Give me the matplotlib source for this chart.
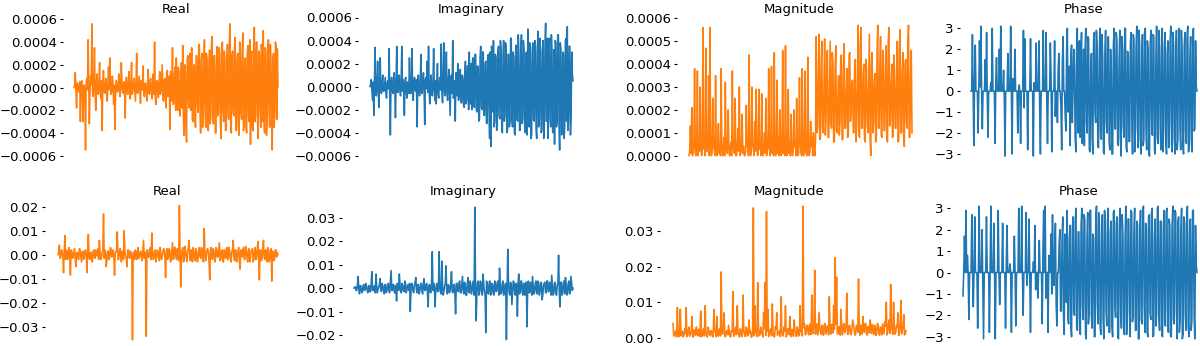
import numpy as np
import matplotlib.pyplot as plt

W, H = 1200, 346
ORANGE = '#ff7f0e'
BLUE = '#1f77b4'

# ---- top row: spectrum of the first signal (real/imag/mag in units of 1e-5, phase in rad) ----
real_top = [
    0, 2, 13, -3, -18, 4, 3, -2, -4, 5, -30, 1, 6, -3, -30, 2, 2, -4, -55, 3,
    8, -2, 42, 5, -32, -4, 10, 3, 56, -6, -8, 4, 35, -3, -20, 2, 12, -5, -6, 3,
    22, -4, -10, 6, -38, 2, 15, -3, -5, 4, 8, -6, -12, 3, 18, -2, 26, 5, -6, -3,
    10, 4, -15, 2, -37, -5, 6, 3, -4, -2, 12, 6, -8, -3, 22, 4, -3, -5, 5, 2,
    -27, 4, 9, -3, -6, 5, 14, -4, -10, 2, 22, -6, -4, 3, 8, -2, -12, 4, 30, -5,
    -5, 3, 10, -4, -14, 6, 6, -2, 19, -5, -8, 3, 4, -6, -12, 2, 16, -3, -6, 5,
    8, -4, -10, 3, 12, -6, 40, -8, -15, 5, 6, -3, -9, 4, 14, -6, -4, 8, 20, -10,
    -12, 6, 8, -9, -18, 12, 15, -8, -6, 10, -37, 14, 10, -12, 35, -15, -14, 10, 18, -20,
    26, -15, -20, 18, 15, -22, -25, 10, 22, -18, 37, -25, -42, 20, 12, -30, -48, 25, 28, -12,
    -18, 30, 24, -20, 35, -28, -30, 15, 20, -25, -35, 28, 28, -15, -22, 32, 38, -18, -40, 25,
    30, -35, -28, 22, 42, -20, -35, 30, 25, -28, -38, 18, 33, -32, -25, 38, 45, -22, -32, 28,
    28, -40, -40, 20, 36, -25, -22, 35, 30, -30, -45, 25, 40, -20, -30, 32, 25, -38, -35, 22,
    38, -25, -28, 40, 56, -30, -40, 28, 32, -22, -25, 35, 44, -35, -38, 25, 30, -30, -42, 40,
    35, -20, -28, 30, 48, -38, -33, 22, 26, -35, -40, 30, 37, -25, -30, 42, -50, 28, 32, -35,
    -38, 25, 53, -30, -25, 40, 40, -28, -45, 32, 30, -20, -35, 38, 28, -30, 50, -25, -40, 35,
    33, -42, -28, 30, 42, -22, -35, 38, 25, -30, -55, 25, 30, -35, -22, 40, 36, -28, 34, 0,
]
imag_top = [
    0, 2, 6, -3, -12, 4, -25, 2, 34, -5, -8, 3, 22, -4, -18, 5, 25, -2, -6, 3,
    10, -4, -4, 2, 8, -5, -10, 3, 5, -2, 33, -6, -42, 4, 8, -3, -6, 5, 12, -2,
    -27, 3, 35, -5, -5, 4, 10, -3, -8, 6, 35, -4, 6, -2, -25, 5, 8, -3, -10, 4,
    4, -6, 25, -2, -6, 3, 33, -5, -12, 4, 8, -3, -4, 6, -35, 2, 10, -4, -8, 3,
    28, -5, -6, 4, 12, -3, -33, 6, 8, -2, 22, -5, 35, -4, -15, 3, 10, -6, -8, 4,
    33, -3, -12, 5, -15, 2, 20, -6, -10, 4, 8, -3, 37, -5, -14, 6, 38, -4, -8, 3,
    30, -6, -12, 5, 15, -4, -25, 8, 10, -6, 40, -10, -8, 5, -30, 12, 12, -8, 20, -12,
    -10, 9, 15, -14, -14, 10, 8, -16, -18, 12, 22, -15, -12, 18, 18, -20, 30, -12, -15, 20,
    -20, 22, 25, -15, -18, 28, 28, -20, -22, 18, 15, -30, -28, 25, 35, -18, -20, 30, 30, -25,
    -25, 20, 22, -32, -32, 25, 28, -20, -45, 30, -52, 35, 30, -22, 40, -35, -30, 28, 25, -38,
    -35, 30, 35, -25, -28, 40, 30, -32, -40, 25, 40, -30, -25, 38, 32, -40, -38, 28, 28, -35,
    -30, 42, 42, -28, -35, 30, 25, -40, -42, 35, 36, -28, -30, 45, 28, -38, -38, 30, 45, -32,
    -28, 40, 33, -35, -40, 28, 30, -42, 50, -30, -35, 38, 27, -45, -42, 32, 38, -28, -30, 40,
    35, -38, -45, 30, 48, -35, -28, 42, 32, -40, -38, 30, 40, -45, -33, 35, 55, -30, -30, 42,
    -45, 38, 42, -28, -35, 45, 30, -40, -38, 32, -50, 40, 38, -35, -30, 45, 45, -32, -55, 38,
    33, -42, -40, 30, 28, -45, -35, 40, 42, -30, 52, -38, -30, 35, 35, -42, -25, 30, 10, 5,
]
mag_top = [
    0, 2, 13, 1, 21, 0, 2, 4, 38, 1, 0, 3, 37, 0, 4, 2, 30, 5, 0, 1,
    56, 3, 6, 0, 47, 2, 2, 4, 35, 0, 56, 3, 0, 1, 25, 4, 3, 0, 35, 2,
    0, 3, 14, 1, 5, 0, 38, 4, 0, 2, 8, 0, 32, 3, 2, 1, 20, 5, 0, 2,
    6, 0, 37, 3, 3, 1, 25, 0, 0, 4, 12, 2, 30, 0, 1, 3, 18, 1, 4, 0,
    0, 2, 22, 4, 6, 0, 44, 3, 0, 1, 30, 5, 3, 0, 15, 2, 29, 4, 0, 1,
    29, 3, 5, 0, 27, 2, 0, 4, 10, 1, 25, 0, 2, 3, 38, 5, 0, 2, 39, 1,
    6, 0, 45, 4, 0, 2, 33, 1, 8, 0, 20, 5, 0, 3, 46, 1, 4, 0, 48, 2,
    0, 5, 29, 1, 6, 0, 18, 3, 0, 2, 20, 4, 5, 0, 25, 3, 0, 1, 34, 5,
    3, 0, 38, 2, 0, 4, 37, 1, 5, 0, 43, 3, 0, 2, 15, 4, 8, 0, 10, 3,
    0, 8, 52, 10, 12, 35, 53, 7, 8, 40, 50, 12, 10, 28, 51, 9, 15, 42, 46, 8,
    8, 30, 50, 14, 12, 45, 40, 6, 6, 38, 48, 11, 10, 25, 35, 9, 14, 42, 44, 7,
    7, 36, 49, 12, 12, 28, 38, 8, 9, 44, 45, 15, 20, 32, 33, 10, 10, 40, 42, 6,
    15, 30, 57, 9, 8, 48, 56, 12, 12, 35, 40, 7, 6, 42, 38, 14, 10, 30, 53, 8,
    0, 40, 45, 10, 14, 33, 36, 6, 9, 45, 57, 12, 12, 38, 52, 9, 8, 46, 44, 11,
    11, 36, 48, 7, 6, 50, 56, 13, 15, 32, 40, 8, 9, 44, 35, 12, 12, 38, 50, 6,
    7, 47, 55, 10, 10, 36, 45, 9, 4, 40, 42, 14, 12, 48, 57, 8, 8, 35, 46, 10,
]
phase_top = [
    0, 0, 2.7, 0, -2.6, 0.3, 2.2, 0, 0, 0, -2.0, 0, 2.4, 0.2, 3.1, 0, -1.8, 0, 0, 0,
    1.5, 0, 2.8, -0.4, -2.2, 0, 0, 0, 0.4, 0, 3.0, 0, 0, 0, -2.5, 0.5, 1.6, 0, 0, 0,
    2.0, 0, 3.1, 0, 0, 0, 1.0, -0.3, -3.1, 0, 0, 0, 1.8, 0, 0, 0, 3.1, 0, -3.0, 0.6,
    0, 0, 2.0, 0, 0, 0, -2.0, 0, 0.3, 0, -2.5, 0, 0, 0, 2.9, -0.8, 2.5, 0, 0, 0,
    -2.8, 0, 0, 0, 2.5, 0, 0, 0, -3.1, 0.4, 0, 0, 2.3, 0, 0.2, 0, 2.4, -1.0, -3.0, 0,
    0, 0, 2.9, 0, 0, 0, 2.8, -0.6, -2.5, 0, 0, 0, 2.3, 0.8, -2.9, 0, 0, 0, 2.4, -1.2,
    0, 0, -1.5, 1.0, 1.8, 0, 0, -0.8, -2.8, 1.5, 2.6, 0, 0, -1.2, -1.9, 2.0, 3.0, -1.0, 0, 1.2,
    -2.6, 1.8, 2.2, -1.5, 0, 2.0, 1.2, -2.2, -2.9, 1.8, 3.0, -2.0, 0, 2.4, -2.2, 1.5, 2.8, -2.5, -0.5, 2.0,
    -2.6, 2.0, 3.0, -1.5, -2.0, 2.6, 2.5, -2.8, -2.9, 1.2, 1.8, -2.2, -3.0, 2.4, 2.8, -1.0, -1.5, 2.9, 2.2, -2.6,
    -2.7, 1.6, 3.0, -2.0, -2.3, 2.7, 1.5, -2.9, -3.0, 1.8, 2.9, -1.4, -2.0, 2.5, 2.6, -2.4, -2.8, 2.0, 1.2, -3.0,
    -3.0, 2.2, 3.0, -1.8, -1.8, 2.8, 2.4, -2.5, -2.6, 1.4, 2.9, -2.2, -3.1, 2.6, 2.0, -1.6, -2.2, 3.0, 3.0, -2.7,
    -2.9, 1.9, 1.6, -2.4, -2.4, 2.3, 2.8, -1.2, -3.0, 2.7, 2.5, -2.9, -1.9, 2.1, 3.1, -1.7, -2.7, 2.9, 2.2, -2.3,
    -3.0, 1.5, 2.7, -2.6, -2.3, 2.8, 3.0, -1.9, -2.8, 2.4, 1.9, -3.0, -3.1, 2.2, 2.9, -1.4, -2.1, 2.7, 2.6, -2.8,
    -3.0, 1.7, 3.1, -2.2, -2.5, 2.9, 2.0, -1.6, -2.8, 2.5, 3.0, -2.9, -1.7, 2.1, 2.8, -2.4, -3.0, 1.8, 2.4, -2.7,
    -2.6, 2.3, 3.1, -1.5, -2.9, 2.8, 2.2, -2.2, -3.0, 1.9, 2.9, -2.8, -2.3, 2.5, 3.0, -1.8, -2.8, 2.9, 1.8, -2.5,
    -3.0, 2.2, 2.8, -2.0, -2.5, 2.7, 3.1, -2.9, -2.7, 1.6, 2.6, -2.3, -2.9, 2.8, 3.0, -1.9, -1.8, 2.4, 0.2, 0,
]

# ---- bottom row: spectrum of the second signal (real/imag/mag in units of 1e-3, phase in rad) ----
real_bot = [
    0, 1, 4, -1.5, -1, 2, 1.5, -0.5, -7.5, 1, 8, -2, 2, 0.5, -2, 1.5, 3, -1, -8.5, 2,
    1.5, -1.5, -1, 1, 2.5, -2, -5, 0.5, 1, -1, -2, 2.5, 2, -0.5, -3, 1, 1.5, -2, -1, 1.5,
    2, -1, -7.5, 2, 8.5, -1.5, -2, 1, 1, -2.5, -3, 1.5, 2, -1, -1.5, 2, 0.5, -0.5, 2.5, -2,
    6, 1, -2, -1, 1, 2, 17, -1.5, 2, 1, -5, -2, 1.5, 1.5, -2, -1, 3, 2, -1, -0.5,
    2, -1.5, -8.5, 1, 1, 2.5, 9.5, -2, -2, 1, 2.5, -1, -3, 1.5, 1, -2, 10, 1, -1, -1.5,
    -5, 2, 2, -1, -1.5, 1.5, 0.5, -1, -35.5, 1, 1, -2, 2, 1.5, -2, -0.5, 3, -1.5, -1, 1,
    1.5, -1, -2.5, 2, 6, -1.5, 1, 0.5, -34, 2, 2, -1, -1, 1.5, 3, -2, 9, 1, -2, -1.5,
    1.5, 2, -3, -1, 2, 1.5, -1, -2.5, 3, 1, -2, -1, 1, 2.5, 2, -1.5, -9.5, 1, 2.5, -2,
    -1, 2.5, 2, -3, -2.5, 1.5, 5, -2, -1.5, 3, 3, -1, -2, 2.5, 1, -2.5, 20.5, 2, -13.5, -1,
    2, 3, -3, -2, 3.5, 1, -1, -3, 2, 2.5, 6, -1.5, -2.5, 2, 1, -3, 3, 1.5, -2, -2.5,
    2.5, 1, -3, -2, 1.5, 3, -1, -1.5, 3, 2, -2, -3, 11, 1.5, -2.5, -1, 2, 2.5, 1, -3,
    -10.5, 2, 3, -1.5, -2, 2.5, 1.5, -2, -3, 3, 2.5, -1, -1, 2, 5, -2.5, -2, 1.5, 2, -3,
    -3, 2, 1, -1.5, 2.5, 3, -2, -2, 3, 1.5, -1.5, -3, 1, 2.5, 6, -1, -2.5, 2, 2, -3,
    -1, 1.5, 3, -2.5, -6, 2, 1.5, -1, 2, 3, -2, -2, 3.5, 1.5, -1, -3, 2, 2.5, -3, -1.5,
    1.5, 2, 2.5, -3, -2, 1.5, 3, -2, -1.5, 2.5, 5.5, -1, -10.5, 2, 2, -2.5, -1, 3, 6, -1.5,
    -2, 2, 1, -3, 3, 1.5, -3, -2, 2, 2.5, -11, 1, 1.5, -2.5, -2, 2, 2, -1, 1, 0,
]
imag_bot = [
    0, 0.5, 0.5, -1, -1, 1.5, 5, -0.5, -2.5, 1, 1, -1.5, -2, 0.5, 1.5, -1, -1, 2, 0.5, -0.5,
    -2, 1, 1, -1.5, -1.5, 2, 7, -1, -1, 0.5, 1, -2, 6, 1, -2, -0.5, 0.5, 1.5, 4, -1,
    -1.5, 2, 1, -1, -2.5, 1.5, 1.5, -2, -1, 1, 2, -1.5, -2, 2.5, 7.5, -1, -1, 1.5, 1.5, -2,
    -2, 1, -5.5, 2, 1, -1, 6, 1.5, -1.5, -2, 2, 1, -1, -1.5, 3, 2, -2, -1, 1, 1.5,
    -1, 2, -10, -1, 2, 1.5, -1.5, -2, 1, 2.5, 4.5, -1, -2, 1.5, 1.5, -2.5, -1, 1, 2, -1.5,
    -2.5, 2, 4, -1, -1, 1.5, 2, -2, -8, 1, 1.5, -1.5, -2, 2.5, 15.5, -1, 2, 1.5, -8, -2,
    1, 2, -1.5, -1, 15.5, 1.5, -2, -2.5, 11.5, 1, -3, -1.5, 1, 2, 9.5, -1, -2.5, 1.5, 1, -2,
    -1, 2.5, 7, -1.5, -2, 1, 1.5, -2.5, -11, 2, 2, -1, -1.5, 2.5, 3, -2, -2, 1.5, 5, -1,
    -2.5, 2.5, 1.5, -3, -3, 2, 4.5, -1.5, -2, 3, 2, -2.5, -1, 1.5, 3, -3, 34.5, 2, -14, -2,
    2.5, 3, -3, -1.5, 3, 2.5, -2, -3, 6, 1.5, -1.5, -2.5, -19, 3, 2, -2, -2.5, 2.5, 3, -3,
    -2, 2, 1.5, -2.5, -3, 3, 2.5, -1.5, -1, 2.5, 3, -3, 8.5, 1.5, -2.5, -2, 2, 3, -3, -2.5,
    1.5, 2, -22, -1, 16.5, 2.5, -2, -3, 2.5, 1.5, -7, -2, 3, 2.5, -1.5, -3, 2, 1.5, -12, 2,
    6, -2.5, -2, 3, 3, -1.5, -3, 2, 1.5, -3, 2, 2.5, -16.5, 1, 3, -2, -2, 2.5, 1, -3,
    5, 1.5, -2.5, -2, 2, 3, -1.5, -2.5, 3, 2, -3, -1.5, 2, 2.5, -5, -3, 1, 2, 2.5, -2,
    -2, 3, 3, -1.5, -1.5, 2.5, 2, -3, 5.5, 1.5, -3, -2, 2, 2.5, -2.5, -3, 1, 2, 14, -1.5,
    -8, 2.5, 2.5, -3, -2, 2, 3, -2.5, 4.5, 1.5, -3, -2, 2, 3, -2.5, -1.5, 5, 2, -1, 0,
]
mag_bot = [
    4, 0.5, 0.5, 1.5, 2, 0.2, 8.5, 1, 0.3, 2, 8, 0.5, 1.5, 1.8, 0.2, 0.6, 2.5, 1.2, 8.5, 0.3,
    0.5, 2, 3, 0.4, 1, 1.6, 6, 0.2, 0.2, 2.2, 2, 0.7, 3, 1.1, 0.5, 2.4, 1.5, 0.3, 7.5, 1.3,
    0.3, 2, 2.5, 0.5, 9, 1.5, 0.5, 0.2, 3, 2.1, 1, 0.6, 2, 1.8, 0.2, 0.4, 8, 2.3, 1.5, 0.3,
    6, 1.4, 0.4, 2.2, 2.5, 0.5, 18.5, 1.2, 1, 2.5, 7, 0.3, 0.3, 1.6, 2, 0.8, 3.5, 2, 0.5, 0.2,
    2, 1.7, 13, 0.5, 0.4, 2.3, 3, 0.9, 9, 1.5, 1, 0.2, 2.5, 2.1, 0.3, 0.6, 12, 1.4, 1.5, 0.3,
    3, 2.4, 0.5, 0.7, 5, 1.2, 2, 0.2, 0.2, 2, 36.5, 0.5, 9, 1.7, 1, 0.3, 15.5, 2.2, 0.5, 0.8,
    3, 1.3, 2, 0.2, 7, 2.5, 15.5, 0.6, 35.5, 1.8, 8, 0.3, 1, 2.2, 2.5, 0.5, 9.5, 1.6, 0.4, 0.2,
    3, 2.4, 7, 0.7, 1.5, 1.3, 2, 0.3, 11.5, 2.1, 0.5, 0.6, 3, 1.9, 9, 0.2, 1, 2.5, 2.5, 0.8,
    6, 1.5, 0.3, 2.3, 2, 0.4, 5, 1.8, 1.5, 0.3, 3, 2.2, 0.5, 0.7, 9, 1.6, 2.5, 0.5, 37, 2.8,
    4, 0.8, 1, 3.2, 3.5, 1.2, 0.8, 3.8, 2.5, 0.9, 12, 2.6, 1.2, 3.5, 19, 1, 3, 3.9, 0.8, 1.6,
    7, 3.1, 1.5, 0.9, 3.5, 2.7, 0.7, 3.6, 4, 1.1, 1.8, 3.3, 3, 0.8, 11.5, 2.9, 1, 3.7, 3.5, 1.3,
    9, 2.4, 22.5, 3.8, 17, 1, 1.2, 3.1, 3, 0.7, 8, 2.8, 0.8, 3.5, 4, 1.4, 2, 3.9, 12.5, 0.9,
    1, 3.3, 3.5, 1.2, 0.8, 2.6, 5, 3.8, 2.5, 0.7, 1, 3.4, 3.5, 1.5, 16.5, 2.9, 0.7, 3.6, 3, 1,
    6, 2.5, 1.5, 3.9, 4, 0.8, 0.8, 3.2, 3, 1.3, 5, 2.7, 1.2, 3.7, 2.5, 0.9, 3.5, 3, 0.6, 1.4,
    4, 3.5, 1, 0.7, 3, 2.8, 0.8, 3.9, 2.5, 1.1, 4.5, 3.3, 10, 0.8, 1.5, 3.6, 5, 1.2, 15, 4,
    2, 0.9, 10, 3.4, 1, 1.5, 3.5, 2.9, 7, 0.6, 1.5, 3.7, 10.5, 1.1, 2, 3.2, 6.5, 0.8, 1, 2,
]
phase_bot = [
    -1.1, 0, 1.7, 0, 2.9, 0, 0.8, 0, -2.2, 0, 0, 0, 2.7, 0, -1.6, 0, 2.6, 0, 0, 0,
    -2.6, 0, 3.1, 0, 0, 0, 2.0, -0.5, -3.1, 0, 0, 0, 2.6, 0, 0, 0, -2.8, 0, 3.1, 0,
    0, 0, 2.3, 0, -3.1, 0, 0, 0, 2.9, 0, -1.5, 0, 0, 0, 2.3, 0, 0, 0, -2.6, 0.4,
    2.2, 0, 0, 0, 0.4, 0, -2.8, 0, 0, 0, 1.7, 0, -2.5, 0, 0, 0, 3.0, 0, 0, 0,
    3.1, 0, -2.0, 0, 0, 0, 2.8, -0.6, 0, 0, 2.5, 0, -2.8, 0, 0, 0, 0.5, 0, 2.2, -0.8,
    0, 0, -1.2, 0, 1.5, 0, 0, 0, -2.4, 1.0, 2.9, 0, 3.1, -1.2, 0, 0, -2.8, 0.8, 0, 0,
    1.8, -1.0, 2.7, 0, -0.6, 1.2, 2.3, -1.5, -2.5, 0, 0, 1.3, 2.0, -1.8, -1.8, 1.5, 2.6, -2.0, -2.9, 1.8,
    0.5, -1.4, 2.9, -2.2, -2.4, 1.6, 2.2, -2.5, -3.0, 2.0, 2.6, -1.8, -2.0, 2.4, 3.0, -2.6, -2.7, 1.9, 1.9, -2.3,
    -2.9, 2.2, 3.0, -1.6, -2.2, 2.7, 2.5, -2.9, -3.1, 1.5, 2.8, -2.4, -1.8, 2.9, 2.9, -2.0, -2.6, 1.8, 1.6, -3.0,
    -3.0, 2.5, 3.1, -1.4, -2.4, 2.8, 2.2, -2.6, -2.9, 1.7, 2.7, -2.2, -3.1, 2.9, 2.0, -1.8, -2.5, 2.4, 3.0, -2.8,
    -2.8, 1.9, 2.4, -2.5, -3.0, 2.8, 2.9, -1.5, -2.1, 2.3, 2.6, -3.0, -3.1, 2.0, 3.0, -1.9, -2.6, 2.7, 1.8, -2.4,
    -2.9, 1.6, 3.1, -2.9, -2.3, 2.5, 2.5, -1.7, -3.0, 2.9, 2.8, -2.3, -2.0, 1.9, 3.0, -2.7, -2.7, 2.4, 2.2, -3.1,
    -3.1, 1.8, 2.9, -2.2, -2.4, 2.9, 3.1, -1.6, -2.8, 2.3, 2.0, -2.8, -3.0, 2.6, 2.7, -1.9, -2.2, 2.8, 3.0, -3.0,
    -2.9, 1.7, 2.5, -2.5, -1.9, 3.0, 3.1, -2.1, -2.7, 2.4, 2.4, -2.9, -3.0, 1.9, 2.9, -2.4, -2.5, 2.8, 3.0, -1.8,
    -2.8, 2.5, 2.2, -3.0, -3.0, 2.1, 3.1, -2.2, -2.4, 2.9, 2.8, -1.7, -3.1, 2.4, 2.6, -2.8, -2.2, 1.9, 3.0, -3.1,
    -2.9, 2.6, 2.3, -2.0, -2.7, 2.9, 3.1, -2.5, -3.0, 1.8, 2.5, -2.7, -2.3, 2.9, 2.9, -1.9, -3.1, 2.2, 0.3, 0,
]

titles = ['Real', 'Imaginary', 'Magnitude', 'Phase']
top_ticks = [np.arange(-6, 7, 2) * 1e-4, np.arange(-6, 7, 2) * 1e-4,
             np.arange(0, 7) * 1e-4, np.arange(-3, 4)]
bot_ticks = [np.arange(-3, 3) * 1e-2, np.arange(-2, 4) * 1e-2,
             np.arange(0, 4) * 1e-2, np.arange(-3, 4)]


def add_panel(fig, vals, scale, color, title, box, data_x, ref, ticks, pad):
    # box = (left, right, top, bottom) in pixels, ref = two (value, pixel) tick pairs
    l, r, t, b = box
    ax = fig.add_axes([l / W, 1 - b / H, (r - l) / W, (b - t) / H])
    y = np.asarray(vals, dtype=float) * scale
    x = np.arange(len(y))
    ax.plot(x, y, color=color, lw=1.15)
    n = len(y) - 1
    d0, d1 = data_x
    ax.set_xlim(-(d0 - l) / (d1 - d0) * n, n + (r - d1) / (d1 - d0) * n)
    (v1, p1), (v2, p2) = ref
    k = (v1 - v2) / (p2 - p1)
    ax.set_ylim(v1 - (b - p1) * k, v1 + (p1 - t) * k)
    ax.set_yticks(ticks)
    ax.set_xticks([])
    for s in ax.spines.values():
        s.set_visible(False)
    ax.tick_params(axis='y', length=2.5, width=0.8, pad=2, labelsize=9.5)
    ax.set_title(title, fontsize=9.5, pad=pad)
    return ax


fig = plt.figure(figsize=(12, 3.46), dpi=100)

top_series = [(real_top, 1e-5, ORANGE), (imag_top, 1e-5, BLUE),
              (mag_top, 1e-5, ORANGE), (phase_top, 1, BLUE)]
top_boxes = [(63, 290, 16, 159), (358, 585, 16, 159), (677, 922, 16, 159), (960, 1208, 16, 159)]
top_data = [(74, 278), (370, 573), (689, 912), (971, 1197)]
top_refs = [((6e-4, 19.3), (-6e-4, 155.7)), ((6e-4, 17.5), (-6e-4, 155.7)),
            ((6e-4, 18.3), (0, 155.7)), ((3, 28.3), (-3, 154))]

bot_series = [(real_bot, 1e-3, ORANGE), (imag_bot, 1e-3, BLUE),
              (mag_bot, 1e-3, ORANGE), (phase_bot, 1, BLUE)]
bot_boxes = [(45, 290, 199, 347), (342, 585, 199, 347), (660, 919, 199, 347), (950, 1208, 199, 347)]
bot_data = [(58, 278), (354, 573), (673, 906), (963, 1197)]
bot_refs = [((0.02, 206.7), (-0.03, 326.7)), ((0.03, 217.7), (-0.02, 335)),
            ((0.03, 231), (0, 337.7)), ((3, 208.3), (-3, 336.7))]

for i in range(4):
    vals, sc, c = top_series[i]
    add_panel(fig, vals, sc, c, titles[i], top_boxes[i], top_data[i], top_refs[i], top_ticks[i], 2.4)
    vals, sc, c = bot_series[i]
    add_panel(fig, vals, sc, c, titles[i], bot_boxes[i], bot_data[i], bot_refs[i], bot_ticks[i], 3.0)

fig.savefig('out.png', dpi=100)
